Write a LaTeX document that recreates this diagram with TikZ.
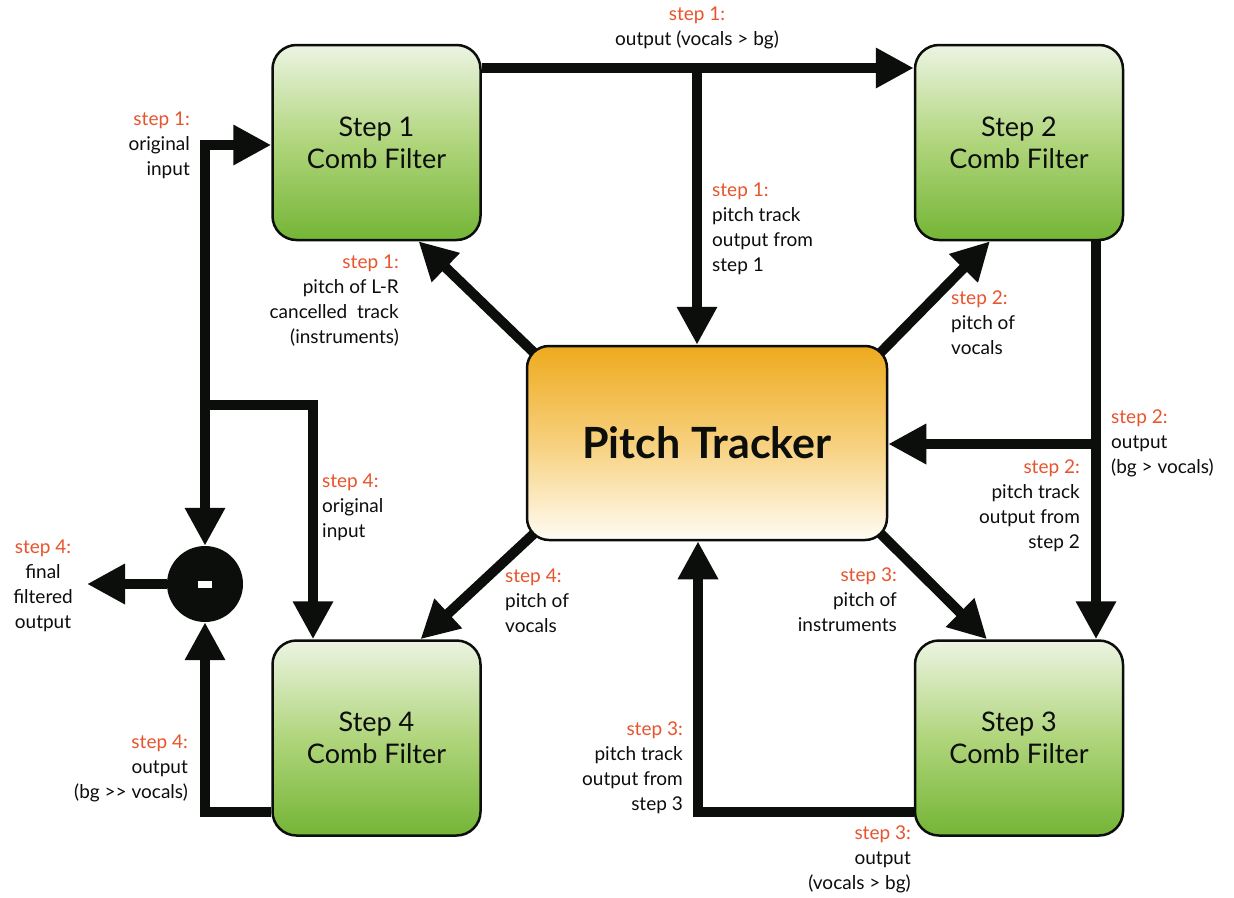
\documentclass[tikz,border=0pt]{standalone}
\usepackage{fontspec}
\setmainfont{Lato}
\usetikzlibrary{arrows.meta,shadings,backgrounds,calc}
\definecolor{ink}{RGB}{12,14,12}
\definecolor{stepred}{RGB}{232,84,44}
\definecolor{gtop}{RGB}{236,244,226}
\definecolor{gmid}{RGB}{176,213,124}
\definecolor{gbot}{RGB}{116,181,54}
\definecolor{otop}{RGB}{238,170,30}
\definecolor{omid}{RGB}{247,208,125}
\definecolor{obot}{RGB}{255,252,244}
\newcommand\steplab[1]{\textcolor{stepred}{step #1:}}
\begin{document}
\begin{tikzpicture}[x=1pt,y=-1pt,
  comb/.style={draw=ink,line width=2.5pt,rounded corners=24pt,minimum width=208pt,minimum height=195pt,
    top color=gtop,bottom color=gbot,middle color=gmid,align=center,text=ink,
    font=\fontsize{27}{32}\selectfont},
  ptbox/.style={draw=ink,line width=2.5pt,rounded corners=22pt,minimum width=360pt,minimum height=194pt,
    top color=otop,bottom color=obot,middle color=omid,text=ink,
    font=\bfseries\fontsize{43}{45}\selectfont},
  lab/.style={font=\fontsize{19}{25}\selectfont,text=ink,inner sep=0pt},
  conn/.style={draw=ink,line width=10pt,line join=miter,-{Triangle[length=38pt,width=38pt]}},
  conntwo/.style={draw=ink,line width=10pt,line join=miter,{Triangle[length=38pt,width=38pt]}-{Triangle[length=38pt,width=38pt]}}
]
\useasboundingbox (0,0) rectangle (1234,897);

% boxes
\node[comb] (s1) at (376.5,142.5) {Step 1\\Comb Filter};
\node[comb] (s2) at (1019,142.5) {Step 2\\Comb Filter};
\node[comb] (s3) at (1019,738) {Step 3\\Comb Filter};
\node[comb] (s4) at (376.5,738) {Step 4\\Comb Filter};
\node[ptbox] (pt) at (707,443) {Pitch Tracker};
\node[circle,fill=ink,minimum size=76pt,inner sep=0pt] (m) at (205,584) {};
\fill[white] ($(m.center)+(-7,-3.5)$) rectangle ($(m.center)+(7,3.5)$);

% connectors
\begin{scope}[on background layer]
\fill[white] (0,0) rectangle (1234,897);
\coordinate (oi) at (205,145);
\draw[conntwo] (m.north) -- (oi) -- (oi -| s1.west);
\coordinate (b4) at (205,405);
\coordinate (b4a) at (313,405);
\draw[conn] (b4) -- (b4a) -- (b4a |- s4.north);
\coordinate (o4) at (205,812);
\draw[conn] (o4 -| s4.west) -- (o4) -- (m.south);
\coordinate (fo) at (87,584);
\draw[conn] (m.west) -- (fo);

\coordinate (t1) at (697,68);
\draw[conn] (t1 -| s1.east) -- (t1 -| s2.west);
\draw[conn] (t1) -- (t1 |- pt.north);

\coordinate (s1t) at ($(s1.south)+(42,0)$);
\coordinate (s2t) at ($(s2.south)+(-29,0)$);
\coordinate (s3t) at ($(s3.north)+(-32,0)$);
\coordinate (s4t) at ($(s4.north)+(44,0)$);
\draw[conn] ($(pt.north west)!-25pt!(s1t)$) -- (s1t);
\draw[conn] ($(pt.north east)!-25pt!(s2t)$) -- (s2t);
\draw[conn] ($(pt.south east)!-25pt!(s3t)$) -- (s3t);
\draw[conn] ($(pt.south west)!-25pt!(s4t)$) -- (s4t);

\coordinate (v2) at (1096,444);
\draw[conn] (v2 |- s2.south) -- (v2 |- s3.north);
\draw[conn] (v2) -- (v2 -| pt.east);

\coordinate (o3) at (698,812);
\draw[conn] (o3 -| s3.west) -- (o3) -- (o3 |- pt.south);
\end{scope}

% labels
\node[lab,align=right,anchor=east] (l1) at (190,145) {\steplab{1}\\original\\input};
\node[lab,align=right,anchor=east] (l2) at (399,301) {\steplab{1}\\pitch of L-R\\cancelled\ \ track\\(instruments)};
\node[lab,align=center] (l3) at (697,28) {\steplab{1}\\output (vocals > bg)};
\node[lab,align=left,anchor=west] (l4) at (712,229) {\steplab{1}\\pitch track\\output from\\step 1};
\node[lab,align=left,anchor=west] (l5) at (951,323) {\steplab{2}\\pitch of\\vocals};
\node[lab,align=left,anchor=west] (l6) at (1111,443) {\steplab{2}\\output\\(bg > vocals)};
\node[lab,align=right,anchor=east] (l7) at (1080,506) {\steplab{2}\\pitch track\\output from\\step 2};
\node[lab,align=right,anchor=east] (l8) at (897,600) {\steplab{3}\\pitch of\\instruments};
\node[lab,align=right,anchor=east] (l9) at (683,768) {\steplab{3}\\pitch track\\output from\\step 3};
\node[lab,align=right,anchor=east] (l10) at (911,859) {\steplab{3}\\output\\(vocals > bg)};
\node[lab,align=left,anchor=west] (l11) at (322,507) {\steplab{4}\\original\\input};
\node[lab,align=center] (l12) at (43,586) {\steplab{4}\\final\\filtered\\output};
\node[lab,align=left,anchor=west] (l13) at (505,601) {\steplab{4}\\pitch of\\vocals};
\node[lab,align=right,anchor=east] (l14) at (188,768) {\steplab{4}\\output\\(bg >{}> vocals)};
\end{tikzpicture}
\end{document}
